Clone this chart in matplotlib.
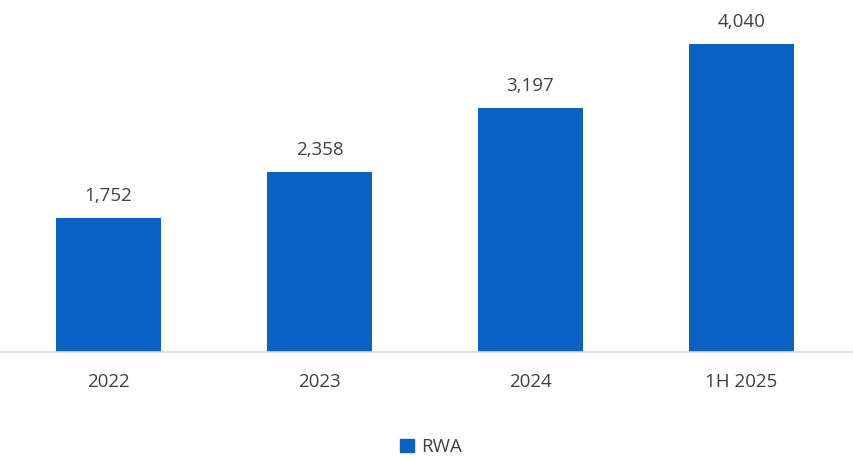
import matplotlib.pyplot as plt
from matplotlib.patches import Patch

categories = ["2022", "2023", "2024", "1H 2025"]
rwa = [1752, 2358, 3197, 4040]
labels = ["1,752", "2,358", "3,197", "4,040"]

bar_color = "#0B62C6"
text_color = "#404040"

fig = plt.figure(figsize=(8.54, 4.61), dpi=100)
ax = fig.add_axes([0, 1 - 352 / 461, 1, 352 / 461])

x = list(range(len(categories)))
ax.bar(x, rwa, width=0.5, color=bar_color)
for xi, v, lab in zip(x, rwa, labels):
    ax.text(xi, v + 170, lab, ha="center", va="bottom", fontsize=13.5,
            color=text_color, family="Open Sans")

ax.set_xlim(-0.514, 3.533)
ax.set_ylim(0, 4617)
ax.set_yticks([])
ax.set_xticks(x)
ax.set_xticklabels(categories, fontsize=13.5, color=text_color, family="Open Sans")
ax.tick_params(axis="x", length=0, pad=15)
for s in ["top", "right", "left"]:
    ax.spines[s].set_visible(False)
ax.spines["bottom"].set_color("#d9d9d9")
ax.spines["bottom"].set_linewidth(1.2)

fig.legend(handles=[Patch(color=bar_color, label="RWA")], loc="center",
           bbox_to_anchor=(0.505, 1 - 447 / 461), frameon=False,
           handlelength=0.75, handleheight=0.75, handletextpad=0.4,
           prop={"family": "Open Sans", "size": 13.5}, labelcolor=text_color)

fig.savefig("out.png", dpi=100)
